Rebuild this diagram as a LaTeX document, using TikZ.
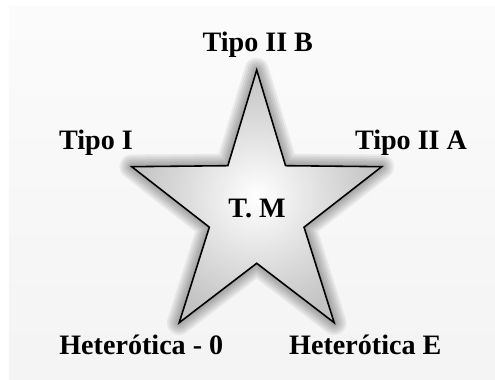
\documentclass[tikz,border=0pt]{standalone}
\usepackage{fontspec}
\setmainfont{Liberation Serif}
\usepackage{tikz}

\begin{document}
\begin{tikzpicture}[
  lbl/.style={font=\bfseries\fontsize{16}{19}\selectfont,anchor=base,inner sep=0pt},
  glow/.style={draw=black!80,opacity=0.07,line join=round},
  starfill/.style={draw=black,line width=0.9pt,line join=miter,
    shading=radial,inner color=white,outer color=gray!48}]
  \useasboundingbox (0,0) rectangle (9.9,7.6);
  % light paper background
  \shade[top color=gray!3,bottom color=gray!9] (0.18,0) rectangle (9.9,7.46);
  % star points, outer and inner
  \coordinate (top) at (5.134,6.2);
  \coordinate (ur) at (5.711,4.286);
  \coordinate (rt) at (7.634,4.266);
  \coordinate (lr) at (6.081,3.056);
  \coordinate (br) at (6.684,1.146);
  \coordinate (bt) at (5.134,2.334);
  \coordinate (bl) at (3.584,1.146);
  \coordinate (ll) at (4.187,3.056);
  \coordinate (lf) at (2.634,4.266);
  \coordinate (ul) at (4.557,4.286);
  % soft shadow round the star
  \foreach \w in {2,4,...,14}
    \path[glow,line width=\w pt] (top) -- (ur) -- (rt) -- (lr) -- (br) -- (bt) -- (bl) -- (ll) -- (lf) -- (ul) -- cycle;
  \path[starfill] (top) -- (ur) -- (rt) -- (lr) -- (br) -- (bt) -- (bl) -- (ll) -- (lf) -- (ul) -- cycle;
  \node[lbl] (tm) at (5.14,3.254) {T. M};
  \node[lbl] (t2b) at (5.156,6.566) {Tipo II B};
  \node[lbl] (t1) at (1.92,4.6) {Tipo I};
  \node[lbl] (t2a) at (8.22,4.6) {Tipo II A};
  \node[lbl] (het0) at (2.826,0.5) {Heterótica - 0};
  \node[lbl] (hetE) at (7.306,0.5) {Heterótica E};
\end{tikzpicture}
\end{document}
